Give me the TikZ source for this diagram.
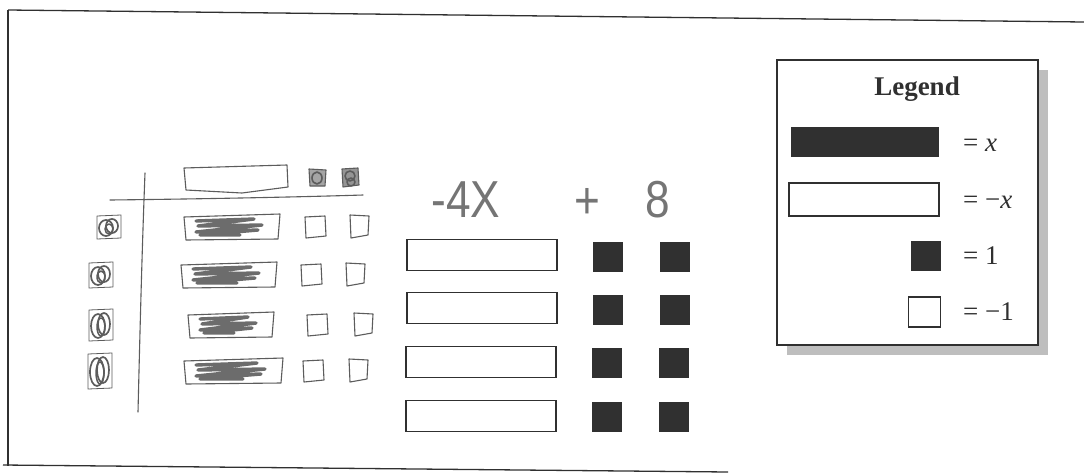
\documentclass[tikz,border=0pt]{standalone}
\usepackage{fontspec}
\setmainfont{Liberation Serif}
\newfontfamily\handfont{Liberation Sans}[FakeStretch=0.85]
\definecolor{ink}{HTML}{303030}
\definecolor{pencil}{HTML}{5C5C5C}
\definecolor{shade}{HTML}{BEBEBE}
\tikzset{
  frameline/.style={draw=ink, line width=1.3pt},
  legendbox/.style={draw=ink, line width=1.8pt, fill=white, minimum width=261pt, minimum height=285pt, inner sep=0pt},
  legendshadow/.style={fill=shade, minimum width=261pt, minimum height=285pt, inner sep=0pt},
  posx/.style={fill=ink, minimum width=148pt, minimum height=30pt, inner sep=0pt},
  negx/.style={draw=ink, line width=1.5pt, fill=white, minimum width=150pt, minimum height=31pt, inner sep=0pt},
  posone/.style={fill=ink, minimum width=30pt, minimum height=30pt, inner sep=0pt},
  negone/.style={draw=ink, line width=1.5pt, fill=white, minimum width=31pt, minimum height=29pt, inner sep=0pt},
  lab/.style={font=\fontsize{27}{27}\selectfont, text=ink, inner sep=0pt, anchor=base west},
  hand/.style={font=\handfont\fontsize{52}{52}\selectfont, text=pencil!85, inner sep=0pt, anchor=base},
  pencilline/.style={draw=pencil, line width=1.1pt, line join=round, line cap=round},
  scribble/.style={draw=pencil!90, line width=3.4pt, line join=round, line cap=round},
}
\begin{document}
\begin{tikzpicture}[x=1pt, y=-1pt]
\useasboundingbox (0,0) rectangle (1084,474);
\fill[white] (0,0) rectangle (1084,474);

% outer frame
\coordinate (tl) at (8,10);
\coordinate (tr) at (1084,22);
\coordinate (bl) at (8,466);
\coordinate (bl2) at (3,465);
\coordinate (br) at (728,472);
\draw[frameline] (tl) -- (tr);
\draw[frameline] (tl) -- (bl);
\draw[frameline] (bl2) -- (br);

% legend
\node[legendshadow] (lgs) at (917.5,212.5) {};
\node[legendbox] (lg) at (907.5,202.5) {};
\node[font=\bfseries\fontsize{27}{27}\selectfont, text=ink, inner sep=0pt] (lgt) at (917,89) {Legend};
\node[posx] (lpx) at (865,142) {};
\node[negx, minimum height=33pt] (lnx) at (864,199.5) {};
\node[posone] (lp1) at (926,256) {};
\node[negone, minimum width=32pt, minimum height=30pt] (ln1) at (924.5,312) {};
\node[lab] (llx) at (963,151) {= \textit{x}};
\node[lab] (llnx) at (963,208) {= −\textit{x}};
\node[lab] (ll1) at (963,264) {= 1};
\node[lab] (lln1) at (963,320) {= −1};

% middle: tiles
\node[negx] (m1) at (482,255) {};
\node[negx] (m2) at (482,308) {};
\node[negx] (m3) at (481,362) {};
\node[negx] (m4) at (481,416) {};
\node[posone] (a1) at (608,257) {};
\node[posone] (a2) at (608,310) {};
\node[posone] (a3) at (607,363) {};
\node[posone] (a4) at (607,417) {};
\node[posone] (b1) at (675,257) {};
\node[posone] (b2) at (675,310) {};
\node[posone] (b3) at (674,363) {};
\node[posone] (b4) at (674,417) {};

% handwritten expression
\node[hand] (t4x) at (466,217) {-4X};
\node[hand] (tplus) at (587,218) {+};
\node[hand] (t8) at (658,217) {8};

% left hand-drawn work
\draw[pencilline] (184,168) -- (287,165) -- (288,187) -- (242,193) -- (186,190) -- cycle;
\draw[pencilline, fill=pencil!55] (309,169) -- (326,170) -- (325,186) -- (310,186) -- cycle;
\draw[pencilline, line width=1.6pt] (317,178) ellipse [x radius=5, y radius=6];
\draw[pencilline, fill=pencil!65] (342,169) -- (358,168) -- (359,185) -- (343,187) -- cycle;
\draw[pencilline, line width=1.6pt] (350,176) ellipse [x radius=5, y radius=5] (351,182) ellipse [x radius=4, y radius=4];
\draw[pencilline] (110,200) .. controls (200,199) and (300,197) .. (363,195);
\draw[pencilline] (145,173) .. controls (142,250) and (140,330) .. (138,412);

\foreach \cy/\cx/\b/\e/\s/\t/\r in {227/109/184/280/305/350/11, 275/101/181/277/301/346/12, 325/101/188/274/307/354/15, 371/100/184/283/303/349/17} {
  % circled mark
  \draw[pencilline, line width=0.8pt] (\cx-12,\cy-\r) -- (\cx+12,\cy-\r-1) -- (\cx+12,\cy+\r) -- (\cx-12,\cy+\r+1) -- cycle;
  \draw[pencilline, line width=1.7pt] (\cx-3,\cy+1) ellipse [x radius=7, y radius=\r-3];
  \draw[pencilline, line width=1.7pt] (\cx+3,\cy-1) ellipse [x radius=6, y radius=\r-4];
  \draw[pencilline, line width=1.5pt] (\cx,\cy+2) ellipse [x radius=4, y radius=\r-6];
  % scribbled bar
  \draw[pencilline] (\b,\cy-10) -- (\e,\cy-13) -- (\e-2,\cy+12) -- (\b+2,\cy+13) -- cycle;
  \draw[scribble] (\b+12,\cy-6) -- (\e-26,\cy-8) -- (\b+14,\cy-1) -- (\e-18,\cy-2) -- (\b+12,\cy+5) -- (\e-22,\cy+3) -- (\b+16,\cy+8) -- (\e-40,\cy+8);
  % small squares
  \draw[pencilline] (\s,\cy-10) -- (\s+20,\cy-11) -- (\s+21,\cy+9) -- (\s+1,\cy+11) -- cycle;
  \draw[pencilline] (\t,\cy-12) -- (\t+19,\cy-11) -- (\t+18,\cy+8) -- (\t+1,\cy+11) -- cycle;
}
\end{tikzpicture}
\end{document}
